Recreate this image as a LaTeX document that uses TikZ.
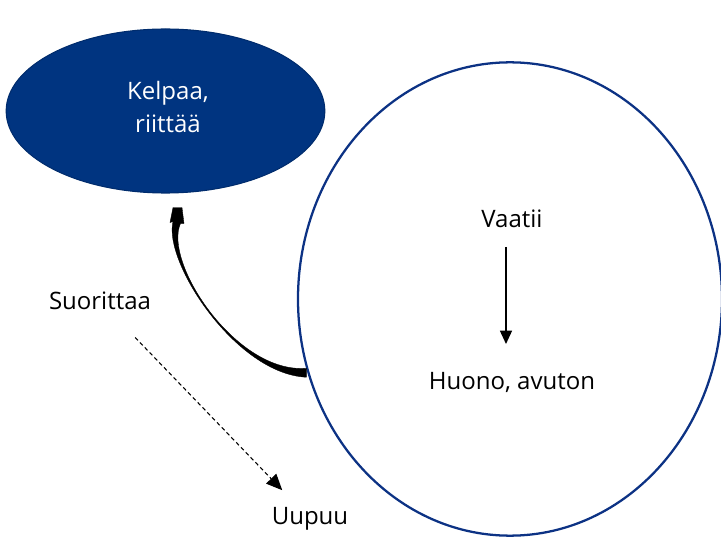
\documentclass[tikz,border=0pt]{standalone}
\usepackage{fontspec}
\setmainfont{Open Sans}
\usetikzlibrary{arrows.meta,shapes.geometric,calc}
\definecolor{navy}{RGB}{0,52,128}
\definecolor{rim}{RGB}{12,50,132}
\begin{document}
\begin{tikzpicture}[x=0.75pt,y=-0.75pt,
  txt/.style={font=\fontsize{18}{25}\selectfont, inner sep=0pt, align=center},
  blob/.style={ellipse, inner sep=0pt},
  flow/.style={line width=1.1pt, -{Triangle[length=10pt,width=9pt]}},
  weak/.style={line width=0.8pt, dash pattern=on 3pt off 2.2pt,
    -{Triangle[length=12pt,width=10.5pt]}}]
\useasboundingbox (0,0) rectangle (721,538);

% the two ellipses
\node[blob, fill=navy, draw=navy!85!black, line width=0.8pt,
  minimum width=239pt, minimum height=123pt] (kelpaa) at (165.5,111) {};
\node[txt, text=white] (kelpaatxt) at (168,107) {Kelpaa,\\riittää};
\node[blob, draw=rim, line width=1.7pt,
  minimum width=318pt, minimum height=355pt] (big) at (510,299) {};

% texts
\node[txt] (vaatii) at (512,219) {Vaatii};
\node[txt] (huono) at (512,382) {Huono, avuton};
\node[txt] (suor) at (100,301) {Suorittaa};
\node[txt] (uupuu) at (310,519) {Uupuu};

% arrows
\draw[flow] ($(vaatii.center)+(-6,28)$) -- ($(huono.center)+(-6,-38)$);
\draw[weak, shorten <=38pt, shorten >=30pt] (suor.center) -- (uupuu.center);

% tapered curved arrow from the big ellipse back up to the dark one
\coordinate (cs) at (big.200);
\coordinate (ce) at ($(kelpaa.south)+(11.5,29)$);
\fill[black, draw=black, line width=0.25pt]
  ($(cs)+(-1,4.5)$) .. controls (236,374) and (163,262) .. ($(ce)+(-4,-1)$)
  -- ($(ce)+(-7,0)$) -- ($(ce)+(-4,-15)$) -- ($(ce)+(5,-15)$) -- ($(ce)+(7,1)$)
  -- ($(ce)+(3.5,1)$) .. controls (163,262) and (236,374) .. ($(cs)+(-1,-4.5)$)
  -- cycle;
\end{tikzpicture}
\end{document}
